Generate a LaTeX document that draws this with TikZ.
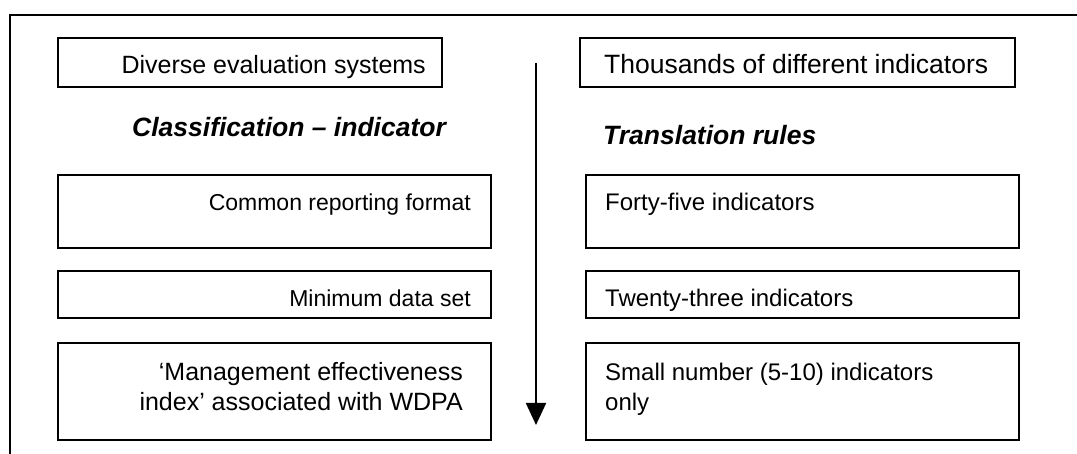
\documentclass[tikz,border=0pt]{standalone}
\usepackage{fontspec}
\setmainfont{Liberation Sans}
\usetikzlibrary{arrows.meta}
\newcommand{\fsz}[1]{\fontsize{#1}{#1}\selectfont}
\begin{document}
\begin{tikzpicture}[x=1pt,y=-1pt,
  boxline/.style={draw=black,line width=1.8pt},
  txt/.style={inner sep=0pt,anchor=base west},
  rtxt/.style={inner sep=0pt,anchor=base east},
  head/.style={font=\fsz{26.5}\bfseries\itshape,inner sep=0pt,anchor=base west}]
\useasboundingbox (0,0) rectangle (1077,454);
% frame: top and left rules only
\coordinate (ftr) at (1077,15);
\coordinate (ftl) at (10,15);
\coordinate (fbl) at (10,454);
\draw[line width=1.8pt] (ftr) -- (ftl) -- (fbl);
% top row
\draw[boxline] (58,38) rectangle (442,87);
\node[rtxt,font=\fsz{25}] (t1) at (426,74) {Diverse evaluation systems};
\draw[boxline] (580,38) rectangle (1015,87);
\node[txt,font=\fsz{26.5}] (t2) at (604,74) {Thousands of different indicators};
% column headings
\node[head] (h1) at (132,137) {Classification -- indicator};
\node[head] (h2) at (603,145) {Translation rules};
% left column
\draw[boxline] (58,175) rectangle (491,248);
\node[rtxt,font=\fsz{23}] (t3) at (471,211) {Common reporting format};
\draw[boxline] (58,271) rectangle (491,318);
\node[rtxt,font=\fsz{23}] (t5) at (471,307) {Minimum data set};
\draw[boxline] (58,343) rectangle (491,440);
\node[rtxt,font=\fsz{25}] (t7a) at (463,381) {‘Management effectiveness};
\node[rtxt,font=\fsz{25}] (t7b) at (463,410) {index’ associated with WDPA};
% right column
\draw[boxline] (586,175) rectangle (1019,248);
\node[txt,font=\fsz{24}] (t4) at (605,211) {Forty-five indicators};
\draw[boxline] (586,271) rectangle (1019,318);
\node[txt,font=\fsz{24}] (t6) at (605,307) {Twenty-three indicators};
\draw[boxline] (586,343) rectangle (1019,440);
\node[txt,font=\fsz{24}] (t8a) at (605,381) {Small number (5-10) indicators};
\node[txt,font=\fsz{24}] (t8b) at (605,410) {only};
% downward arrow between the columns
\coordinate (atop) at (536,63);
\coordinate (abot) at (536,425);
\draw[line width=1.8pt,-{Triangle[length=22pt,width=20pt]}] (atop) -- (abot);
\end{tikzpicture}
\end{document}
